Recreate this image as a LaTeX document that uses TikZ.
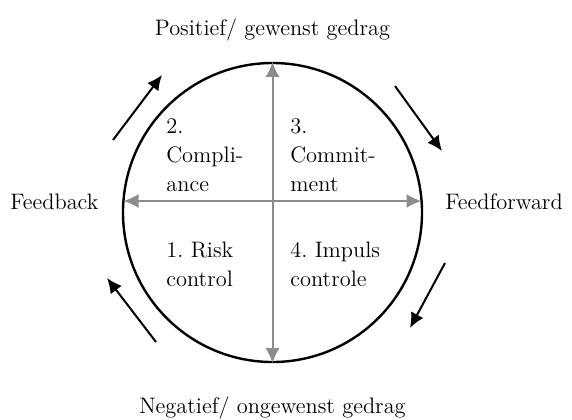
\documentclass[tikz,border=0pt]{standalone}
\usetikzlibrary{arrows.meta}

\tikzset{>={Latex[length=7.5pt,width=7pt]},
  every node/.style={font=\fontsize{11.2}{14.5}\selectfont,inner sep=0pt},
  axis/.style={<->,draw=gray!90,line width=1pt},
  flow/.style={->,line width=1pt},
  quad/.style={anchor=north west,align=left}}

\begin{document}
\frenchspacing
\begin{tikzpicture}[x=0.5pt,y=-0.5pt]
    \useasboundingbox (0,0) rectangle (572,419);
    \node[circle,draw,line width=1.2pt,minimum size=149.5pt] (ring) at (272.5,212.5) {};

    % axes
    \coordinate (top) at (ring.north);
    \coordinate (bot) at (ring.south);
    \coordinate (lft) at (123.5,201);
    \coordinate (rgt) at (421.5,201);
    \draw[axis] (bot) -- (top);
    \draw[axis] (lft) -- (rgt);

    % labels
    \node[anchor=base] (pos) at (272.5,35) {Positief/ gewenst gedrag};
    \node[anchor=base] (neg) at (272.5,413) {Negatief/ ongewenst gedrag};
    \node[anchor=base west] (fb) at (10,209) {Feedback};
    \node[anchor=base west] (ff) at (445,209) {Feedforward};

    \node[quad] (q2) at (166,118) {2.\\Compli-\\ance};
    \node[quad] (q3) at (290,118) {3.\\Commit-\\ment};
    \node[quad] (q1) at (166,242) {1. Risk\\control};
    \node[quad] (q4) at (290,242) {4. Impuls\\controle};

    % cycle
    \foreach \a/\b/\c/\d [count=\i] in {113/140/162/75, 395/86/442/151, 445/263/410/328, 156/342/107/278}{
        \coordinate (s\i) at (\a,\b);
        \coordinate (e\i) at (\c,\d);
        \draw[flow] (s\i) -- (e\i);
    }
\end{tikzpicture}
\end{document}
